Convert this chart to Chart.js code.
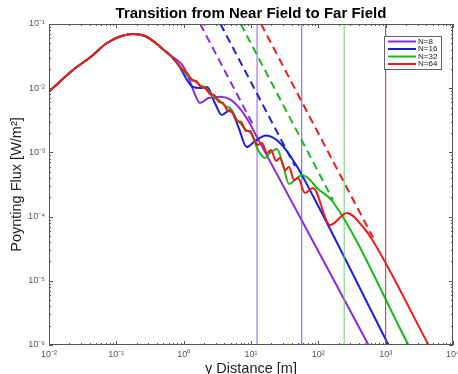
<!DOCTYPE html>
<html>
<head>
<meta charset="utf-8">
<script src="https://cdn.jsdelivr.net/npm/chart.js@4.4.0/dist/chart.umd.min.js"></script>
<style>
  html, body { margin: 0; background: #fff; }
  #wrap { width: 458px; height: 374px; }
</style>
</head>
<body>
<div id="wrap"><canvas id="chart"></canvas></div>
<script>
// values
const arrayN = [8, 16, 32, 64]
const farFieldX = [12.3, 56.7, 242, 1000]
const xTicks = [1e-2, 1e-1, 1e0, 1e1, 1e2, 1e3, 1e4]
const yTicks = [1e-6, 1e-5, 1e-4, 1e-3, 1e-2, 1e-1]

// shared near field part (all N overlap here)
const nearField = [
  [0.01, 0.00882], [0.0227, 0.0192], [0.0406, 0.0301], [0.0719, 0.0501],
  [0.113, 0.0639], [0.177, 0.0699], [0.267, 0.065], [0.375, 0.0515],
  [0.528, 0.038], [0.627, 0.0329]
]

const flux8 = [
  [0.796, 0.0275], [0.978, 0.0222], [1.16, 0.0155], [1.424, 0.00873],
  [1.749, 0.00588], [2.299, 0.00696], [3.465, 0.00737], [4.878, 0.00672],
  [6.479, 0.00515], [8.637, 0.0034], [11.47, 0.00198], [556, 1e-6]
]
const flux16 = [
  [0.796, 0.0247], [0.945, 0.0185], [1.121, 0.0134], [1.376, 0.01044],
  [1.749, 0.01007], [2.222, 0.01044], [2.92, 0.00582], [3.672, 0.00383],
  [4.878, 0.00458], [6.479, 0.00251], [8.637, 0.00121], [11.47, 0.0015],
  [16.71, 0.00183], [26.97, 0.0014], [47.74, 0.000614], [83.37, 0.000209],
  [1102, 1e-6]
]
const flux32 = [
  [0.882, 0.0214], [1.16, 0.0155], [1.376, 0.0134], [1.749, 0.0112],
  [2.147, 0.01007], [2.729, 0.00729], [3.349, 0.00655], [4.111, 0.00528],
  [5.048, 0.00474], [6.197, 0.0032], [7.105, 0.00277], [8.434, 0.00223],
  [10.0, 0.002], [12.71, 0.00109], [16.15, 0.000818], [19.16, 0.000979],
  [24.34, 0.00113], [29.89, 0.000636], [36.69, 0.000322], [45.04, 0.000372],
  [57.23, 0.000444], [75.21, 0.000372], [95.59, 0.000279], [165.2, 0.000169],
  [2184, 1e-6]
]
const flux64 = [
  [0.824, 0.0238], [0.978, 0.0192], [1.121, 0.01725], [1.33, 0.0134],
  [1.525, 0.01295], [1.809, 0.01044], [2.074, 0.01007], [2.462, 0.00812],
  [2.822, 0.00784], [3.349, 0.0061], [3.84, 0.00588], [4.555, 0.00441],
  [5.223, 0.00426], [6.197, 0.00308], [7.105, 0.00298], [8.434, 0.00215],
  [9.667, 0.00215], [11.08, 0.00162], [12.71, 0.0013], [14.57, 0.0014],
  [17.29, 0.000979], [19.83, 0.00109], [23.52, 0.000735], [26.97, 0.000818],
  [31.99, 0.000532], [36.69, 0.000593], [43.53, 0.000372], [49.91, 0.000399],
  [63.42, 0.000233], [83.37, 0.000279], [149.1, 0.000074], [266.7, 0.000114],
  [460.9, 0.0000689], [649, 0.0000417], [4329, 1e-6]
]

// far field 1/r^2 guides (dashed)
const farLine8 = [[1.76, 0.1], [11, 0.00256]]
const farLine16 = [[3.52, 0.1], [45, 0.000612]]
const farLine32 = [[7.04, 0.1], [165, 0.000182]]
const farLine64 = [[14.08, 0.1], [649, 0.0000471]]

const lineColors = ['rgb(140,40,230)', 'rgb(25,30,225)', 'rgb(25,185,25)', 'rgb(240,25,25)']
const markerColors = ['rgb(150,90,235)', 'rgb(95,95,235)', 'rgb(105,210,105)', 'rgb(225,35,35)']

const FONT = "'Liberation Sans', Helvetica, Arial, sans-serif"
const toXY = pts => pts.map(([x, y]) => ({ x, y }))
const sup = n => String(n).split('').map(c => '⁻⁰¹²³⁴⁵⁶⁷⁸⁹'['-0123456789'.indexOf(c)]).join('')
const powLabel = v => '10' + sup(Math.round(Math.log10(v)))

const solids = [flux8, flux16, flux32, flux64]
const dashes = [farLine8, farLine16, farLine32, farLine64]

// bottom to top drawing order, reversed for chart.js (index 0 is drawn last)
const sets = []
arrayN.forEach((n, i) => {
  sets.push({
    data: toXY([[farFieldX[i], 1e-6], [farFieldX[i], 0.1]]),
    borderColor: markerColors[i], borderWidth: 1
  })
  sets.push({
    data: toXY(dashes[i]),
    borderColor: lineColors[i], borderWidth: 2, borderDash: [8, 5]
  })
  sets.push({
    label: 'N=' + n,
    data: toXY(nearField.concat(solids[i])),
    borderColor: lineColors[i], borderWidth: 2,
    cubicInterpolationMode: 'monotone'
  })
})
sets.reverse()

const frame = {
  id: 'frame',
  afterDatasetsDraw(chart) {
    const { ctx, chartArea: a, scales: { x, y } } = chart
    ctx.save()
    ctx.strokeStyle = '#555'
    ctx.lineWidth = 1
    ctx.beginPath()
    const tick = (px, isX, len) => {
      if (isX) {
        ctx.moveTo(px, a.bottom); ctx.lineTo(px, a.bottom - len)
        ctx.moveTo(px, a.top); ctx.lineTo(px, a.top + len)
      } else {
        ctx.moveTo(a.left, px); ctx.lineTo(a.left + len, px)
        ctx.moveTo(a.right, px); ctx.lineTo(a.right - len, px)
      }
    }
    xTicks.forEach((v, k) => {
      tick(Math.round(x.getPixelForValue(v)) + 0.5, true, 4)
      if (k < xTicks.length - 1)
        for (let m = 2; m < 10; m++) tick(Math.round(x.getPixelForValue(v * m)) + 0.5, true, 2)
    })
    yTicks.forEach((v, k) => {
      tick(Math.round(y.getPixelForValue(v)) + 0.5, false, 4)
      if (k < yTicks.length - 1)
        for (let m = 2; m < 10; m++) tick(Math.round(y.getPixelForValue(v * m)) + 0.5, false, 2)
    })
    ctx.stroke()
    ctx.strokeRect(Math.round(a.left) + 0.5, Math.round(a.top) + 0.5,
      Math.round(a.right - a.left) - 1, Math.round(a.bottom - a.top) - 1)
    ctx.restore()
  }
}

const boxLegend = {
  id: 'boxLegend',
  afterDraw(chart) {
    const { ctx } = chart
    const items = chart.data.datasets.filter(d => d.label).reverse()
    ctx.save()
    ctx.fillStyle = '#fff'
    ctx.fillRect(384, 36, 57, 33)
    ctx.strokeStyle = '#666'
    ctx.lineWidth = 1
    ctx.strokeRect(384.5, 36.5, 57, 33)
    ctx.font = '8px ' + FONT
    ctx.textBaseline = 'middle'
    items.forEach((d, i) => {
      const yy = 41.5 + i * 7.5
      ctx.strokeStyle = d.borderColor
      ctx.lineWidth = 2
      ctx.beginPath()
      ctx.moveTo(388, yy); ctx.lineTo(416, yy)
      ctx.stroke()
      ctx.fillStyle = '#222'
      ctx.fillText(d.label, 418, yy)
    })
    ctx.restore()
  }
}

new Chart(document.getElementById('chart'), {
  type: 'scatter',
  data: { datasets: sets },
  options: {
    responsive: true,
    maintainAspectRatio: false,
    animation: false,
    devicePixelRatio: 1,
    layout: { padding: { left: 0, right: 5, top: 0, bottom: 0 } },
    showLine: true,
    elements: { point: { radius: 0 }, line: { tension: 0 } },
    plugins: {
      legend: { display: false },
      tooltip: { enabled: false },
      title: {
        display: true,
        text: 'Transition from Near Field to Far Field',
        fullSize: false,
        color: '#000',
        font: { family: FONT, size: 15, weight: 'bold', lineHeight: 1.2 },
        padding: { top: 5, bottom: 1 }
      }
    },
    scales: {
      x: {
        type: 'logarithmic',
        min: 1e-2, max: 1e4,
        afterBuildTicks: s => { s.ticks = xTicks.map(value => ({ value })) },
        afterFit: s => { s.height = 29; s.paddingLeft = 0; s.paddingRight = 0 },
        grid: { display: false, drawTicks: false },
        border: { display: false },
        ticks: {
          callback: powLabel, maxRotation: 0, autoSkip: false,
          padding: 4, color: '#555', font: { family: FONT, size: 9 }
        },
        title: {
          display: true, text: 'y Distance [m]', color: '#222',
          font: { family: FONT, size: 14.5, lineHeight: 0.75 }, padding: 0
        }
      },
      y: {
        type: 'logarithmic',
        min: 1e-6, max: 1e-1,
        afterBuildTicks: s => { s.ticks = yTicks.map(value => ({ value })) },
        afterFit: s => { s.width = 49; s.paddingTop = 0; s.paddingBottom = 0 },
        grid: { display: false, drawTicks: false },
        border: { display: false },
        ticks: {
          callback: powLabel, autoSkip: false,
          padding: 4, color: '#555', font: { family: FONT, size: 9 }
        },
        title: {
          display: true, text: 'Poynting Flux [W/m²]', color: '#222',
          font: { family: FONT, size: 14.5 }, padding: { top: 8, bottom: 0 }
        }
      }
    }
  },
  plugins: [frame, boxLegend]
})
</script>
</body>
</html>
